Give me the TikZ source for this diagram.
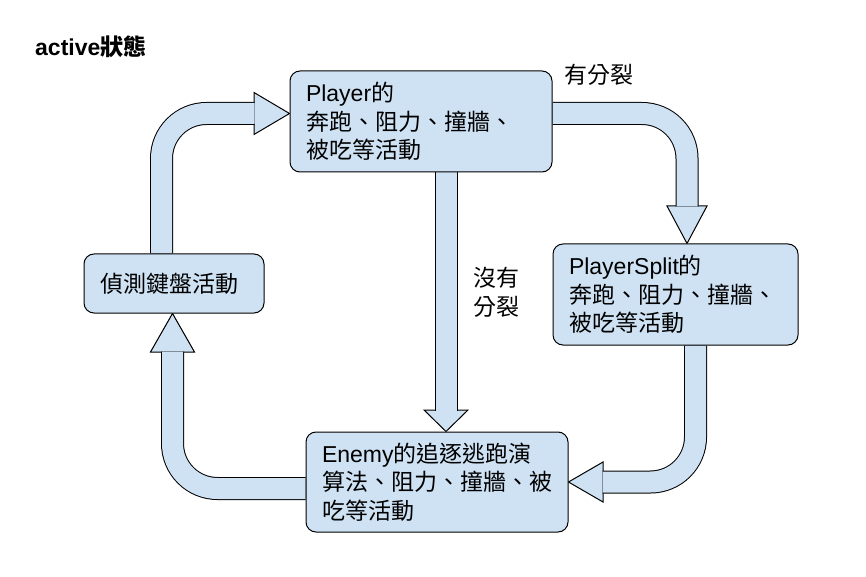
\documentclass[tikz,border=0pt]{standalone}
\usepackage{fontspec}
\setmainfont{Liberation Sans}
\newfontfamily\cjk{Noto Sans CJK TC}
\usetikzlibrary{positioning,backgrounds}

\definecolor{boxBlue}{HTML}{CFE2F3}

\tikzstyle{boxNode} = [rectangle, rounded corners=10pt, draw=black, fill=boxBlue, line width=1pt, inner xsep=16pt, align=left, font=\fontsize{23}{28.5}\selectfont]
\tikzstyle{labelNode} = [inner sep=0pt, font=\fontsize{23}{29}\selectfont]
\tikzstyle{arrowBody} = [draw=black, line width=1pt, double=boxBlue, double distance=21pt, rounded corners=45pt]
\tikzstyle{arrowHead} = [draw=black, fill=boxBlue, line width=1pt, line join=miter]

\begin{document}
\begin{tikzpicture}[x=1pt, y=1pt]
    \useasboundingbox (0,0) rectangle (866,576);

    \node (title)[labelNode, anchor=west, font=\fontsize{23}{27}\selectfont\bfseries] at (35,529) {active{\cjk 狀態}};
    \node (player)[boxNode, text width=230pt, minimum height=101pt] at (421,454.5) {Player{\cjk 的}\\{\cjk 奔跑、阻力、撞牆、}\\{\cjk 被吃等活動}};
    \node (split)[boxNode, text width=213pt, minimum height=101pt, below right=71pt and 0pt of player] {PlayerSplit{\cjk 的}\\{\cjk 奔跑、阻力、撞牆、}\\{\cjk 被吃等活動}};
    \node (enemy)[boxNode, text width=230pt, minimum height=100pt, below=259pt of player, xshift=16pt] {Enemy{\cjk 的追逐逃跑演}\\{\cjk 算法、阻力、撞牆、被}\\{\cjk 吃等活動}};
    \node (kbd)[boxNode, text width=148pt, minimum height=59pt, below left=81pt and 25pt of player] {{\cjk 偵測鍵盤活動}};
    \node (yesSplit)[labelNode, right=12pt of player.north east, yshift=-4pt] {{\cjk 有分裂}};
    \node (noSplit)[labelNode, align=center] at ([xshift=75pt, yshift=-120pt]player.south) {{\cjk 沒有}\\{\cjk 分裂}};

    \begin{scope}[on background layer]
        % heads
        \draw [arrowHead] ([yshift=8pt]player.west) -- ++(-35.5,21) -- ++(0,-42) -- cycle;
        \draw [arrowHead] ([xshift=11.5pt]split.north) -- ++(-20,37.5) -- ++(40,0) -- cycle;
        \draw [arrowHead] (enemy.east) -- ++(34.5,20) -- ++(0,-40) -- cycle;
        \draw [arrowHead] ([xshift=-1.5pt]kbd.south) -- ++(-22,-38.5) -- ++(44,0) -- cycle;
        \draw [arrowHead] ([xshift=9pt]enemy.north) -- ++(-22,21.5) -- ++(44,0) -- cycle;
        % shafts
        \draw [arrowBody] ([xshift=-12.5pt]kbd.north) |- ([xshift=-35pt, yshift=8pt]player.west);
        \draw [arrowBody] ([yshift=8pt]player.east) -| ([xshift=11.5pt, yshift=37pt]split.north);
        \draw [arrowBody] ([xshift=20pt]split.south) |- ([xshift=34pt]enemy.east);
        \draw [arrowBody] ([yshift=-6.5pt]enemy.west) -| ([xshift=-1.5pt, yshift=-38pt]kbd.south);
        \draw [arrowBody] ([xshift=25pt]player.south) -- ([xshift=9pt, yshift=21pt]enemy.north);
    \end{scope}

\end{tikzpicture}
\end{document}
